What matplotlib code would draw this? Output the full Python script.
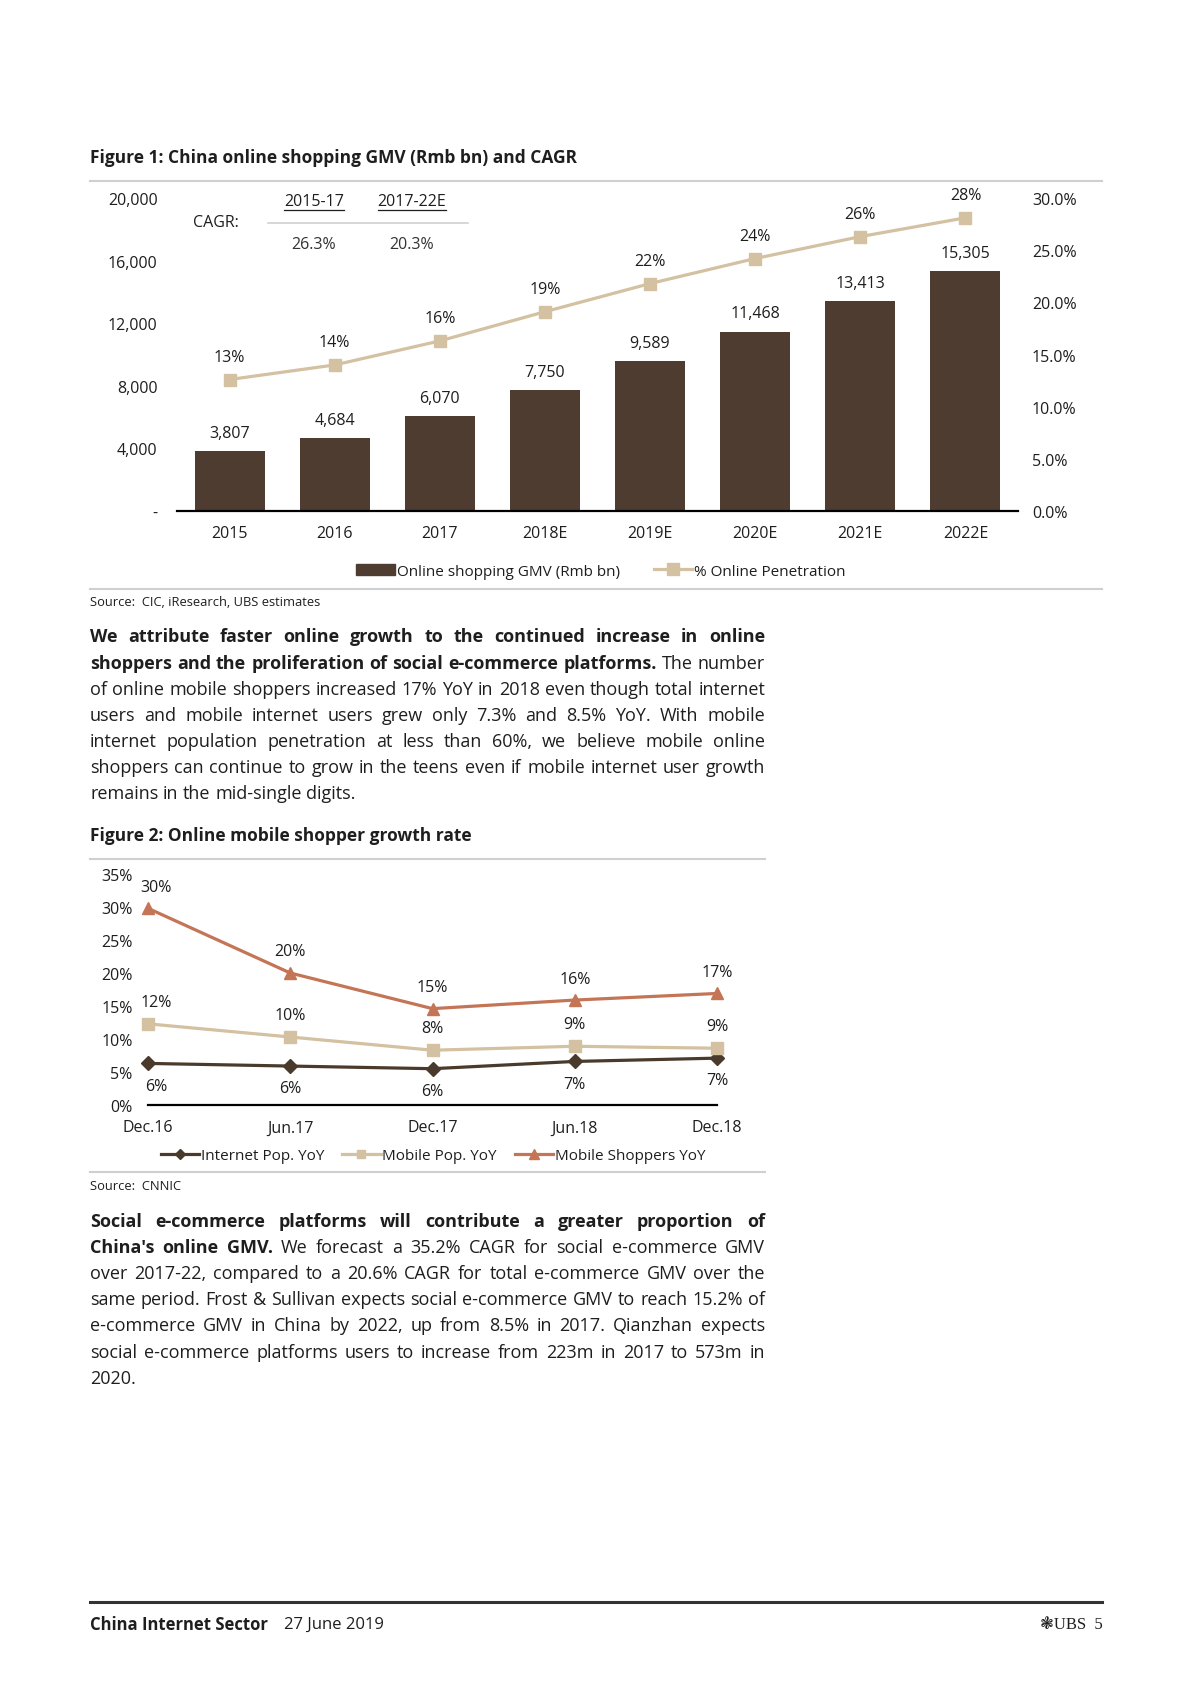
import matplotlib
matplotlib.use('Agg')
import matplotlib.pyplot as plt
from matplotlib.lines import Line2D
from matplotlib.patches import Patch
import numpy as np

plt.rcParams['font.family'] = ['Open Sans', 'DejaVu Sans']

# ---- data: figure 1 ----
years = ['2015', '2016', '2017', '2018E', '2019E', '2020E', '2021E', '2022E']
gmv = [3807, 4684, 6070, 7750, 9589, 11468, 13413, 15305]
penetration = [12.6, 14.0, 16.3, 19.1, 21.8, 24.2, 26.3, 28.1]
pen_labels = ['13%', '14%', '16%', '19%', '22%', '24%', '26%', '28%']
gmv_ticks = [0, 4000, 8000, 12000, 16000, 20000]
gmv_ticklabels = ['-', '4,000', '8,000', '12,000', '16,000', '20,000']
pen_ticks = [0, 5, 10, 15, 20, 25, 30]
cagr_periods = ['2015-17', '2017-22E']
cagr_values = ['26.3%', '20.3%']

# ---- data: figure 2 ----
periods = ['Dec.16', 'Jun.17', 'Dec.17', 'Jun.18', 'Dec.18']
internet_pop = [6.3, 5.9, 5.5, 6.6, 7.1]
mobile_pop = [12.3, 10.3, 8.3, 8.9, 8.6]
mobile_shoppers = [29.8, 20.0, 14.6, 15.9, 16.9]
internet_labels = ['6%', '6%', '6%', '7%', '7%']
mobile_pop_labels = ['12%', '10%', '8%', '9%', '9%']
shopper_labels = ['30%', '20%', '15%', '16%', '17%']
rate_ticks = [0, 5, 10, 15, 20, 25, 30, 35]

para1 = [
    "We attribute faster online growth to the continued increase in online",
    "shoppers and the proliferation of social e-commerce platforms. The number",
    "of online mobile shoppers increased 17% YoY in 2018 even though total internet",
    "users and mobile internet users grew only 7.3% and 8.5% YoY. With mobile",
    "internet population penetration at less than 60%, we believe mobile online",
    "shoppers can continue to grow in the teens even if mobile internet user growth",
    "remains in the mid-single digits.",
]
para2 = [
    "Social e-commerce platforms will contribute a greater proportion of",
    "China's online GMV. We forecast a 35.2% CAGR for social e-commerce GMV",
    "over 2017-22, compared to a 20.6% CAGR for total e-commerce GMV over the",
    "same period. Frost & Sullivan expects social e-commerce GMV to reach 15.2% of",
    "e-commerce GMV in China by 2022, up from 8.5% in 2017. Qianzhan expects",
    "social e-commerce platforms users to increase from 223m in 2017 to 573m in",
    "2020.",
]

# colours
BAR = '#4d3c2f'
TAN = '#d3c1a1'
RUST = '#c47556'
DARK = '#4a3a2c'
GRAY = '#d0d0d0'
TXT = '#1e1e1e'

W, H = 1190, 1683
fig = plt.figure(figsize=(W / 100, H / 100), dpi=100)
renderer = fig.canvas.get_renderer()


def fx(x):
    return x / W


def fy(y):
    return 1 - y / H


def hline(x0, x1, y, color, lw):
    fig.add_artist(Line2D([fx(x0), fx(x1)], [fy(y), fy(y)], color=color, lw=lw))


def text_w(s, size, weight='normal'):
    t = fig.text(0, 0, s, fontsize=size, fontweight=weight)
    w = t.get_window_extent(renderer).width
    t.remove()
    return w


def natural_width(lines, n_bold, size):
    # widest line (excluding paragraph end) at normal word spacing
    k = 0
    best = 0
    sp = text_w('a a', size) - text_w('aa', size)
    for i, line in enumerate(lines):
        words = line.split()
        tot = 0
        for w in words:
            tot += text_w(w, size, 'bold' if k < n_bold else 'normal')
            k += 1
        tot += sp * (len(words) - 1)
        if i < len(lines) - 1:
            best = max(best, tot)
    return best


def justify(lines, n_bold, x0, x1, y0, dy, size):
    k = 0
    for i, line in enumerate(lines):
        words = line.split()
        texts = []
        for w in words:
            wt = 'bold' if k < n_bold else 'normal'
            texts.append(fig.text(0, 0, w, fontsize=size, fontweight=wt,
                                  color=TXT, va='center', ha='left'))
            k += 1
        widths = [t.get_window_extent(renderer).width for t in texts]
        if i == len(lines) - 1 or len(words) == 1:
            gap = text_w('a a', size) - text_w('aa', size)
        else:
            gap = (x1 - x0 - sum(widths)) / (len(words) - 1)
        x = x0
        y = y0 + i * dy
        for t, w in zip(texts, widths):
            t.set_position((fx(x), fy(y)))
            x += w + gap


# ---------------- Figure 1 ----------------
fig.text(fx(90), fy(158), 'Figure 1: China online shopping GMV (Rmb bn) and CAGR',
         fontsize=12.5, fontweight='bold', color=TXT, va='center')
hline(90, 1102, 182, GRAY, 1.5)

ax1 = fig.add_axes([fx(177), fy(512), (1018 - 177) / W, (512 - 199) / H])
x = np.arange(len(years))
ax1.bar(x, gmv, width=0.665, color=BAR, label='Online shopping GMV (Rmb bn)')
ax1.set_xlim(-0.5, len(years) - 0.5)
ax1.set_ylim(0, 20000)
ax1.set_yticks(gmv_ticks)
ax1.set_yticklabels(gmv_ticklabels)
ax1.set_xticks(x)
ax1.set_xticklabels(years)
for s in ['top', 'left', 'right']:
    ax1.spines[s].set_visible(False)
ax1.spines['bottom'].set_color('black')
ax1.spines['bottom'].set_linewidth(1.6)
ax1.tick_params(axis='both', length=0, labelsize=11.5, colors=TXT)
ax1.tick_params(axis='y', pad=14)
ax1.tick_params(axis='x', pad=19)
for lab in ax1.get_xticklabels():
    lab.set_verticalalignment('baseline')
for xi, v in zip(x, gmv):
    ax1.annotate(f'{v:,}', (xi, v), xytext=(0, 13), textcoords='offset points',
                 ha='center', va='center', fontsize=11.5, color=TXT)

ax2 = ax1.twinx()
ax2.plot(x, penetration, color=TAN, lw=2.3, marker='s', ms=8.5,
         label='% Online Penetration')
ax2.set_ylim(0, 30)
ax2.set_yticks(pen_ticks)
ax2.set_yticklabels([f'{t:.1f}%' for t in pen_ticks])
for s in ['top', 'left', 'right', 'bottom']:
    ax2.spines[s].set_visible(False)
ax2.tick_params(axis='y', length=0, labelsize=11.5, colors=TXT, pad=10)
for xi, v, lab in zip(x, penetration, pen_labels):
    ax2.annotate(lab, (xi, v), xytext=(0, 16.5), textcoords='offset points',
                 ha='center', va='center', fontsize=11.5, color=TXT)

# CAGR box
fig.text(fx(216), fy(223), 'CAGR:', fontsize=11.5, color=TXT, ha='center', va='center')
hline(268, 468, 224, GRAY, 1.2)
for cx, per, val in zip([314, 412], cagr_periods, cagr_values):
    t = fig.text(fx(cx), fy(202), per, fontsize=11.5, color=TXT, ha='center', va='center')
    w = t.get_window_extent(renderer).width
    hline(cx - w / 2, cx + w / 2, 211, TXT, 0.9)
    fig.text(fx(cx), fy(245), val, fontsize=11.5, color='#333333', ha='center', va='center')

h1 = [Patch(color=BAR), Line2D([], [], color=TAN, lw=2.3, marker='s', ms=8.5)]
fig.legend(h1, ['Online shopping GMV (Rmb bn)', '% Online Penetration'],
           loc='center', bbox_to_anchor=(fx(601), fy(572)), ncol=2, frameon=False,
           fontsize=11, handlelength=2.5, handletextpad=0.15, columnspacing=2.2,
           labelcolor=TXT)
hline(90, 1102, 590, GRAY, 1.5)
fig.text(fx(90), fy(603), 'Source:  CIC, iResearch, UBS estimates', fontsize=9.3,
         color=TXT, va='center')

# body text size chosen so the tightest line fills the column
col_w = 765 - 90
body = 10 * col_w / max(natural_width(para1, 19, 10), natural_width(para2, 12, 10))
justify(para1, 19, 90, 765, 637.5, 26.1, body)

# ---------------- Figure 2 ----------------
fig.text(fx(90), fy(836), 'Figure 2: Online mobile shopper growth rate',
         fontsize=12.5, fontweight='bold', color=TXT, va='center')
hline(90, 765, 860, GRAY, 1.5)

ax3 = fig.add_axes([fx(148), fy(1106), (717 - 148) / W, (1106 - 875) / H])
xp = np.arange(len(periods))
series = [
    (internet_pop, internet_labels, DARK, 'D', 7, 'Internet Pop. YoY', -16),
    (mobile_pop, mobile_pop_labels, TAN, 's', 8.5, 'Mobile Pop. YoY', 16),
    (mobile_shoppers, shopper_labels, RUST, '^', 9, 'Mobile Shoppers YoY', 15.5),
]
handles = []
for vals, labs, col, mk, ms, name, off in series:
    ln, = ax3.plot(xp, vals, color=col, lw=2.3, marker=mk, ms=ms, clip_on=False,
                   label=name)
    handles.append(ln)
    for i, (xi, v, lab) in enumerate(zip(xp, vals, labs)):
        dx = 6 if i == 0 else 0
        ax3.annotate(lab, (xi, v), xytext=(dx, off), textcoords='offset points',
                     ha='center', va='center', fontsize=11.5, color=TXT)
ax3.set_xlim(0, len(periods) - 1)
ax3.set_ylim(0, 35)
ax3.set_yticks(rate_ticks)
ax3.set_yticklabels([f'{t}%' for t in rate_ticks])
ax3.set_xticks(xp)
ax3.set_xticklabels(periods)
for s in ['top', 'left', 'right']:
    ax3.spines[s].set_visible(False)
ax3.spines['bottom'].set_color('black')
ax3.spines['bottom'].set_linewidth(1.6)
ax3.tick_params(axis='both', length=0, labelsize=11.5, colors=TXT)
ax3.tick_params(axis='y', pad=11)
ax3.tick_params(axis='x', pad=19)
for lab in ax3.get_xticklabels():
    lab.set_verticalalignment('baseline')

fig.legend(handles, [h.get_label() for h in handles], loc='center',
           bbox_to_anchor=(fx(433), fy(1157)), ncol=3, frameon=False, fontsize=11,
           handlelength=2.5, handletextpad=0.1, columnspacing=1.2, labelcolor=TXT,
           markerscale=0.75)
hline(90, 765, 1173, GRAY, 1.5)
fig.text(fx(90), fy(1187), 'Source:  CNNIC', fontsize=9.3, color=TXT, va='center')

justify(para2, 12, 90, 765, 1222, 26.1, body)

# ---------------- footer ----------------
hline(90, 1102, 1603, '#333333', 2.2)
fig.text(fx(90), fy(1625), 'China Internet Sector', fontsize=12, fontweight='bold',
         color=TXT, va='center')
fig.text(fx(284), fy(1625), '27 June 2019', fontsize=12, color=TXT, va='center')
fig.text(fx(1103), fy(1625), '\u2743UBS  5', fontsize=12, color=TXT, va='center',
         ha='right', family=['Liberation Serif', 'DejaVu Sans'])

fig.savefig('out.png', dpi=100, facecolor='white')
